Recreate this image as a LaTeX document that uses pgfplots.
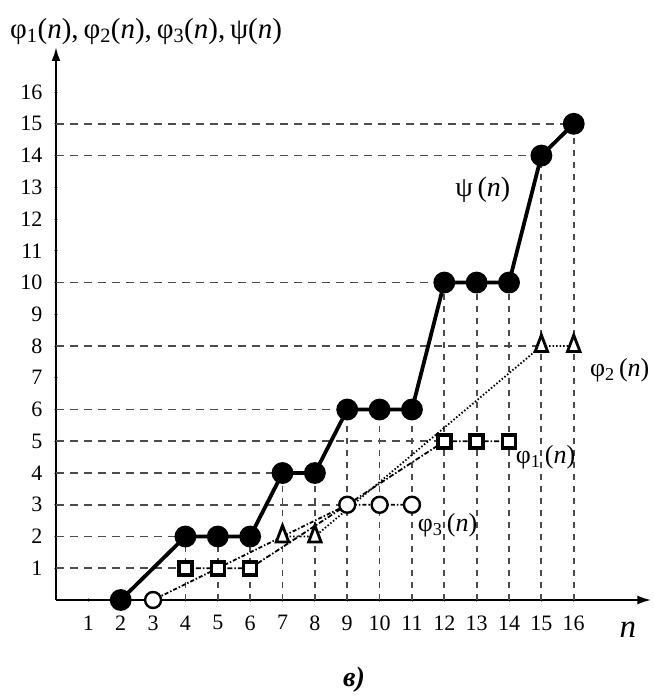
\documentclass[border=0pt]{standalone}
\usepackage{fontspec}
\setmainfont{Liberation Serif}
\usepackage{pgfplots}
\pgfplotsset{compat=1.18}
\usetikzlibrary{arrows.meta}
\begin{document}
\fontsize{22}{24}\selectfont
\begin{tikzpicture}
\useasboundingbox (-56pt,-100pt) rectangle (598pt,600pt);
\begin{axis}[
  at={(0,0)}, anchor=origin,
  scale only axis, width=595.4pt, height=553pt,
  xmin=0, xmax=18.4, ymin=0, ymax=17.42,
  axis lines=left,
  axis line style={line width=2.4pt, -{Latex[length=14pt,width=9pt]}},
  xtick={1,...,16}, ytick={1,...,16},
  major tick length=4pt,
  tick style={line width=0.8pt, black!45},
  tick label style={font=\fontsize{22}{24}\selectfont},
  /pgf/number format/assume math mode=true,
  xticklabel style={yshift=-6pt},
  yticklabel style={xshift=-4pt},
  clip=false,
  guide/.style={black!70, line width=1.8pt, dash pattern=on 8pt off 6pt, forget plot},
]
% guide lines
\addplot[guide, xcomb] coordinates {(4,1) (4,2) (9,3) (7,4) (12,5) (9,6) (15,8) (12,10) (15,14) (16,15)};
\addplot[guide, ycomb, dash pattern=on 6pt off 6pt] coordinates {(4,2) (5,2) (6,2) (7,4) (8,4) (9,6) (10,6) (11,6) (12,10) (13,10) (14,10) (15,14) (16,15)};

% phi3 : circles
\addplot[black, line width=1.8pt, dash pattern=on 1.5pt off 2pt on 4pt off 2pt,
  mark=*, mark size=8pt, mark options={solid, fill=white, draw=black, line width=2.4pt}]
  coordinates {(3,0) (9,3) (10,3) (11,3)};
% phi1 : squares
\addplot[black, line width=1.8pt, dash pattern=on 5pt off 2pt on 1.5pt off 2pt,
  mark=square*, mark size=6.5pt, mark options={solid, fill=white, draw=black, line width=3.5pt}]
  coordinates {(4,1) (5,1) (6,1) (12,5) (13,5) (14,5)};
% phi2 : triangles
\addplot[black, line width=1.8pt, dash pattern=on 1.5pt off 2pt,
  mark=triangle*, mark size=8.5pt, mark options={solid, fill=white, draw=black, line width=2.8pt, yscale=1.3, xscale=0.85}]
  coordinates {(7,2) (8,2) (15,8) (16,8)};
% psi : filled circles
\addplot[black, line width=3.8pt, mark=*, mark size=9pt, mark options={solid}]
  coordinates {(2,0) (4,2) (5,2) (6,2) (7,4) (8,4) (9,6) (10,6) (11,6) (12,10) (13,10) (14,10) (15,14) (16,15)};

\node[anchor=west, inner sep=0pt, font=\fontsize{29}{31}\selectfont] at (axis cs:-1.42,17.92)
  {φ\textsubscript{1}(\textit{n}),\,φ\textsubscript{2}(\textit{n}),\,φ\textsubscript{3}(\textit{n}),\,ψ(\textit{n})};
\node[font=\fontsize{28}{30}\selectfont] at (axis cs:13.19,12.91) {ψ\,(\textit{n})};
\node[font=\fontsize{26}{28}\selectfont] at (axis cs:17.42,7.24) {φ\textsubscript{2}\,(\textit{n})};
\node[font=\fontsize{26}{28}\selectfont] at (axis cs:15.13,4.50) {φ\textsubscript{1}\,(\textit{n})};
\node[font=\fontsize{26}{28}\selectfont] at (axis cs:12.1,2.36) {φ\textsubscript{3}\,(\textit{n})};
\node[font=\fontsize{33}{35}\selectfont\itshape] at (axis cs:17.67,-0.95) {n};
\node[font=\fontsize{28}{30}\selectfont\bfseries\itshape] at (axis cs:9.21,-2.52) {в)};
\end{axis}
\end{tikzpicture}
\end{document}
